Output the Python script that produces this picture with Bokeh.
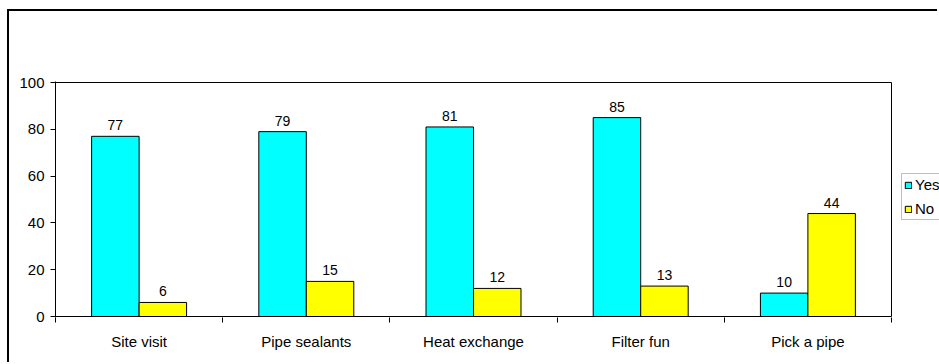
from bokeh.plotting import figure
from bokeh.models import (ColumnDataSource, Range1d, LinearAxis, FixedTicker,
                          Legend, LegendItem)
from bokeh.transform import dodge
from bokeh.core.properties import value
from bokeh.embed import file_html
from bokeh.resources import INLINE

categories = ["Site visit", "Pipe sealants", "Heat exchange", "Filter fun", "Pick a pipe"]
yes_values = [77, 79, 81, 85, 10]
no_values = [6, 15, 12, 13, 44]
y_ticks = [0, 20, 40, 60, 80, 100]

FONT = "Liberation Sans"

n = len(categories)
centers = [i + 0.5 for i in range(n)]
src = ColumnDataSource(dict(
    x=centers,
    yes=yes_values,
    no=no_values,
    yes_lbl=[str(v) for v in yes_values],
    no_lbl=[str(v) for v in no_values],
))

# layout (pixels)
FIG_W, FIG_H = 930, 353
LEFT, TOP, BOTTOM = 46, 70, 47
FRAME_W = FIG_W - LEFT          # frame runs to the right edge; plot area is 836 px of it
FRAME_H = FIG_H - TOP - BOTTOM  # 236 px; value axis spans 234 px
PLOT_W = 836
x_end = n * FRAME_W / PLOT_W
pad = 100 * 1 / 234

frame_box = ColumnDataSource(dict(l=[0], r=[n], b=[0], t=[max(y_ticks)]))

p = figure(width=FIG_W, height=FIG_H, output_backend="svg", toolbar_location=None,
           x_range=Range1d(0, x_end), y_range=Range1d(-pad, 100 + pad),
           x_axis_type=None, y_axis_type=None,
           min_border_left=LEFT, min_border_right=0, min_border_top=TOP, min_border_bottom=BOTTOM)
p.styles = {"margin-left": "7px", "margin-top": "9px",
            "border-left": "2px solid black", "border-top": "2px solid black"}
p.background_fill_color = "white"
p.border_fill_color = "white"
p.outline_line_color = None
p.xgrid.visible = False
p.ygrid.visible = False

bw = 0.284
r_yes = p.vbar(x=dodge("x", -bw / 2), top="yes", width=bw, source=src,
               fill_color="#00FFFF", line_color="black", line_width=1)
r_no = p.vbar(x=dodge("x", bw / 2), top="no", width=bw, source=src,
              fill_color="#FFFF00", line_color="black", line_width=1)

# plot-area border
p.quad(left="l", right="r", bottom="b", top="t", source=frame_box,
       fill_color=None, line_color="black", line_width=1)

p.text(x=dodge("x", -bw / 2), y="yes", text="yes_lbl", source=src,
       text_align="center", text_baseline="alphabetic", y_offset=-11,
       text_font=value(FONT), text_font_size="14px", text_color="black")
p.text(x=dodge("x", bw / 2), y="no", text="no_lbl", source=src,
       text_align="center", text_baseline="alphabetic", y_offset=-11,
       text_font=value(FONT), text_font_size="14px", text_color="black")

xaxis = LinearAxis(
    ticker=FixedTicker(ticks=centers, minor_ticks=list(range(n + 1))),
    major_label_overrides={c: lab for c, lab in zip(centers, categories)},
)
xaxis.major_tick_line_color = None
xaxis.major_tick_out = 0
xaxis.major_tick_in = 0
xaxis.minor_tick_line_color = "black"
xaxis.minor_tick_out = 5
xaxis.minor_tick_in = 0
xaxis.axis_line_color = None
xaxis.major_label_text_font = FONT
xaxis.major_label_text_font_size = "15px"
xaxis.major_label_text_color = "black"
xaxis.major_label_standoff = 10
p.add_layout(xaxis, "below")

yaxis = LinearAxis(ticker=FixedTicker(ticks=y_ticks, minor_ticks=[]))
yaxis.major_tick_line_color = "black"
yaxis.major_tick_out = 5
yaxis.major_tick_in = 0
yaxis.minor_tick_line_color = None
yaxis.axis_line_color = "black"
yaxis.major_label_text_font = FONT
yaxis.major_label_text_font_size = "15px"
yaxis.major_label_text_color = "black"
yaxis.major_label_standoff = 6
p.add_layout(yaxis, "left")

legend = Legend(items=[LegendItem(label="Yes", renderers=[r_yes]),
                       LegendItem(label="No", renderers=[r_no])],
                location=(846, 97), orientation="vertical")
legend.glyph_width = 8
legend.glyph_height = 8
legend.label_height = 15
legend.label_standoff = 3
legend.spacing = 7
legend.padding = 2
legend.margin = 0
legend.border_line_color = "#808080"
legend.border_line_width = 1
legend.background_fill_color = "white"
legend.background_fill_alpha = 1
legend.label_text_font = FONT
legend.label_text_font_size = "15px"
legend.label_text_color = "black"
p.add_layout(legend)

open("out.html", "w").write(file_html(p, INLINE))
